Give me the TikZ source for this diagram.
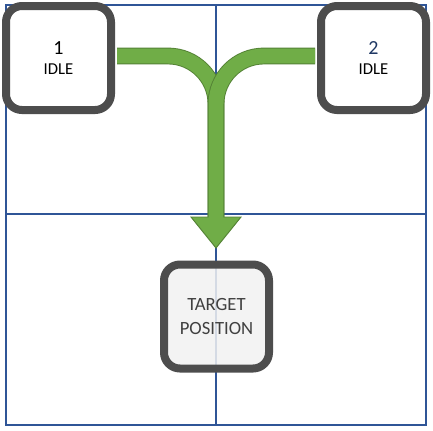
\documentclass[tikz,border=0pt]{standalone}
\usepackage{fontspec}
\setmainfont{Carlito}
\definecolor{gridblue}{HTML}{2F5597}
\definecolor{boxgray}{HTML}{4D4D4D}
\definecolor{arrowfill}{HTML}{70AD47}
\definecolor{arrowedge}{HTML}{548235}
\definecolor{numblue}{HTML}{1F3864}
\definecolor{txtgray}{HTML}{404040}
\begin{document}
\begin{tikzpicture}[x=0.75pt,y=-0.75pt,
  gridline/.style={draw=gridblue, line width=0.9pt},
  statebox/.style={draw=boxgray, line width=6pt, rounded corners=12pt,
    minimum width=78.75pt, minimum height=78pt, inner sep=0pt, align=center},
  idlefont/.style={font=\fontsize{12.5}{14}\selectfont},
  branchedge/.style={draw=arrowedge, line width=12.6pt, rounded corners=36pt},
  branchfill/.style={draw=arrowfill, line width=11.2pt, rounded corners=36pt},
  headstyle/.style={fill=arrowfill, draw=arrowedge, line width=0.7pt, line join=miter}]
\fill[white] (0,0) rectangle (433,430);
\useasboundingbox (0,0) rectangle (433,430);
% grid
\draw[gridline] (6,5) rectangle (426,425);
\draw[gridline] (216,5) -- (216,425);
\draw[gridline] (6,214) -- (426,214);
% boxes
\node[statebox, idlefont, fill=white] (b1) at (58.5,58) {{\fontsize{15}{16}\selectfont 1}\\[1pt]IDLE};
\node[statebox, idlefont, fill=white] (b2) at (373.5,58) {{\fontsize{15}{16}\selectfont\color{numblue}2}\\[1pt]IDLE};
\node[statebox, fill=black!5, fill opacity=0.85, text opacity=1, draw opacity=1, text=txtgray, font=\fontsize{14}{17.5}\selectfont] (t) at (216.5,316.5) {TARGET\\POSITION};
% arrow
\coordinate (ls) at (117,56);
\coordinate (rs) at (315,56);
\coordinate (j) at (216,56);
\coordinate (se) at (216,217);
\coordinate (sf) at (216,218.5);
\draw[branchedge] (ls) -- (j) -- (se);
\draw[branchfill] (ls) -- (j) -- (sf);
\draw[branchedge] (rs) -- (j) -- (se);
\draw[headstyle] (191,217) -- (241,217) -- (216,248) -- cycle;
\draw[branchfill] (rs) -- (j) -- (sf);
\draw[draw=arrowfill, line width=11.2pt] (216,200) -- (sf);
\end{tikzpicture}
\end{document}
